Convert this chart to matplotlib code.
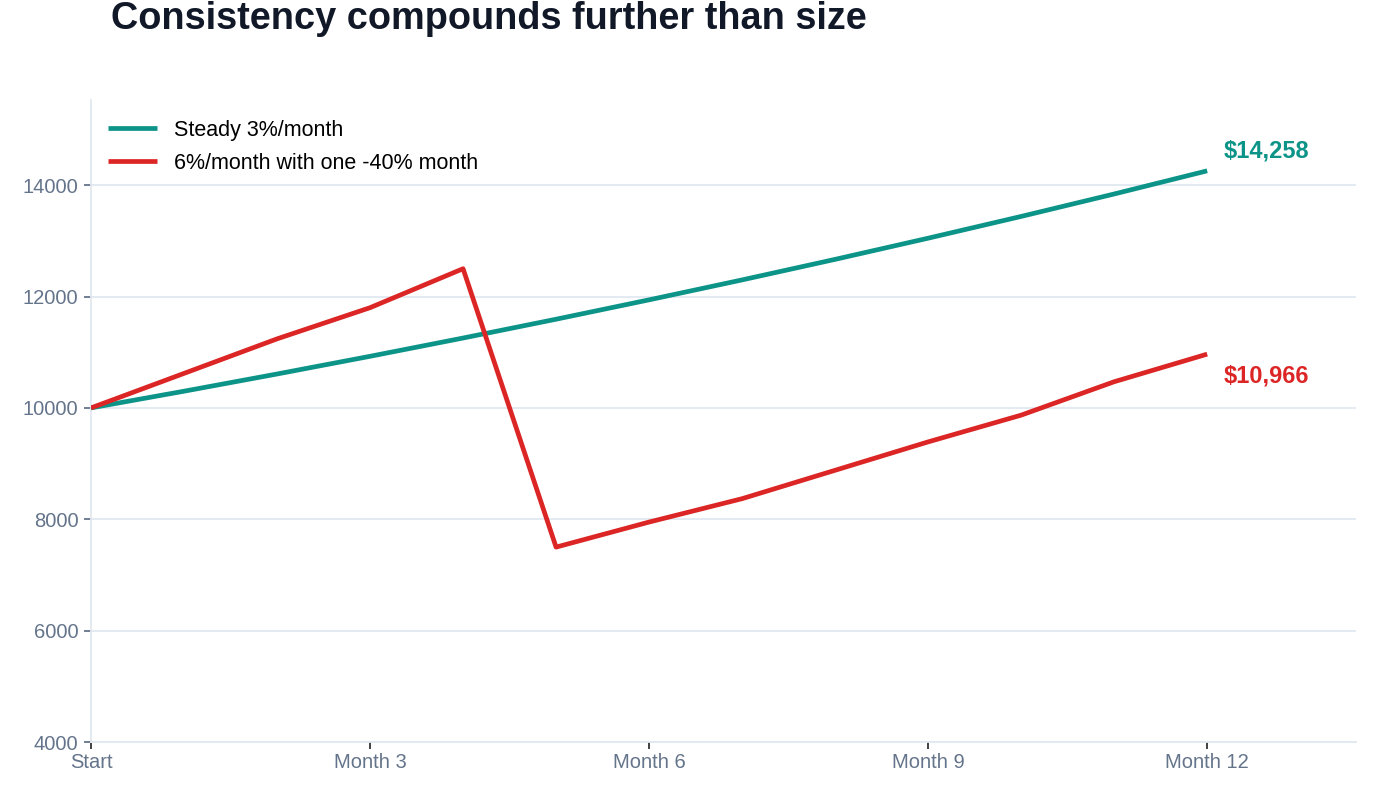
import matplotlib
matplotlib.use("Agg")
import matplotlib.pyplot as plt

months = list(range(13))
tick_positions = [0, 3, 6, 9, 12]
tick_labels = ["Start", "Month 3", "Month 6", "Month 9", "Month 12"]
y_ticks = [4000, 6000, 8000, 10000, 12000, 14000]

steady = [10000, 10300, 10609, 10927, 11255, 11593, 11941, 12299, 12668, 13048, 13439, 13842, 14258]
volatile = [10000, 10620, 11240, 11800, 12500, 7500, 7950, 8370, 8880, 9390, 9870, 10470, 10966]

steady_label = "Steady 3%/month"
volatile_label = "6%/month with one -40% month"
title = "Consistency compounds further than size"

TEAL = "#0d9488"
RED = "#dc2626"
SLATE = "#64748b"
GRID = "#e2e8f0"

plt.rcParams["font.family"] = ["Liberation Sans", "DejaVu Sans"]

fig = plt.figure(figsize=(13.77, 7.97), dpi=100)
ax = fig.add_axes([91 / 1377, 1 - 742 / 797, (1356 - 91) / 1377, (742 - 100) / 797])

ax.plot(months, steady, color=TEAL, lw=3.4, solid_capstyle="butt", solid_joinstyle="round", label=steady_label, zorder=3)
ax.plot(months, volatile, color=RED, lw=3.4, solid_capstyle="butt", solid_joinstyle="round", label=volatile_label, zorder=3)

ax.set_xlim(0, 13.6)
ax.set_ylim(4000, 15530)
ax.set_xticks(tick_positions)
ax.set_xticklabels(tick_labels)
ax.set_yticks(y_ticks)
ax.set_yticklabels([str(v) for v in y_ticks])

ax.grid(axis="y", color=GRID, lw=1.3, zorder=0)
ax.grid(axis="x", visible=False)
for s in ["top", "right"]:
    ax.spines[s].set_visible(False)
for s in ["left", "bottom"]:
    ax.spines[s].set_color(GRID)
    ax.spines[s].set_linewidth(1.3)

ax.tick_params(axis="y", colors=SLATE, labelsize=14.5, length=5, width=1.3, pad=4)
ax.tick_params(axis="x", colors="#333333", labelcolor=SLATE, labelsize=14.5, length=5, width=1.3, pad=3)

ax.annotate(f"${steady[-1]:,}", xy=(months[-1], steady[-1]), xytext=(12, 14),
            textcoords="offset points", color=TEAL, fontsize=17, fontweight="bold",
            ha="left", va="center")
ax.annotate(f"${volatile[-1]:,}", xy=(months[-1], volatile[-1]), xytext=(12, -16),
            textcoords="offset points", color=RED, fontsize=17, fontweight="bold",
            ha="left", va="center")

leg = ax.legend(loc="upper left", bbox_to_anchor=(-0.002, 0.999), frameon=False,
                fontsize=15.5, handlelength=2.3, handletextpad=0.75, labelspacing=0.55)

fig.text(111 / 1377, 1 - 19 / 797, title, fontsize=27.3, fontweight="bold",
         color="#111827", ha="left", va="center")

fig.savefig("out.png", dpi=100, facecolor="white")
